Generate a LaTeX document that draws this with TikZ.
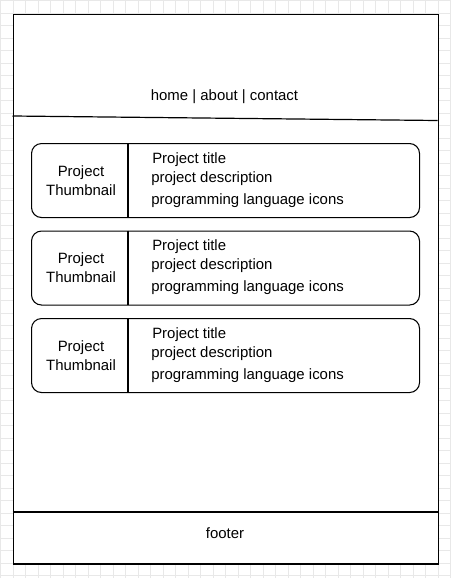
\documentclass[tikz,border=0pt]{standalone}
\usepackage{fontspec}
\setmainfont{Liberation Sans}
\begin{document}
\begin{tikzpicture}[x=0.75pt,y=-0.75pt,
  every node/.style={font=\fontsize{11.2}{13}\selectfont, inner sep=0pt},
  gridminor/.style={draw=black!9, line width=0.5pt},
  frame/.style={draw, line width=0.9pt},
  card/.style={draw, line width=0.8pt, rounded corners=7.5pt,
    minimum width=291pt, minimum height=55.5pt, anchor=north west},
  label/.style={anchor=base west},
  thumb/.style={anchor=base}]
  \useasboundingbox (0,0) rectangle (451,578);
  % background grid
  \foreach \k in {0,...,36} {
    \pgfmathsetmacro{\p}{0.5+12.5*\k}
    \draw[gridminor] (\p,0) -- (\p,578);
  }
  \foreach \k in {0,...,46} {
    \pgfmathsetmacro{\p}{0.5+12.5*\k}
    \draw[gridminor] (0,\p) -- (451,\p);
  }
  \fill[white] (12.5,14) rectangle (437.5,563.5);
  % page frame
  \node[frame, anchor=north west, minimum width=318.75pt, minimum height=412.1pt] (page) at (12.5,14) {};
  % header separator and footer separator
  \coordinate (hl) at (12.5,116);
  \coordinate (hr) at (437.5,120.5);
  \draw[line width=0.9pt] (hl) -- (hr);
  \coordinate (fl) at (12.5,512);
  \coordinate (fr) at (437.5,512);
  \draw[line width=0.9pt] (fl) -- (fr);
  % navigation and footer text
  \node[anchor=base] (nav) at (224.5,100) {home | about | contact};
  \node[anchor=base] (foot) at (225,538) {footer};
  % project cards
  \foreach \i/\dy in {1/0, 2/87.5, 3/175} {
    \node[card] (card\i) at (31,143+\dy) {};
    \draw[line width=0.8pt] (128,143+\dy) -- (128,217+\dy);
    \node[thumb] (thumbA\i) at (81,176.4+\dy) {Project};
    \node[thumb] (thumbB\i) at (81,195+\dy) {Thumbnail};
    \node[label] (title\i) at (152,163+\dy) {Project title};
    \node[label] (desc\i) at (151,182.4+\dy) {project description};
    \node[label] (icons\i) at (151,204+\dy) {programming language icons};
  }
\end{tikzpicture}
\end{document}
